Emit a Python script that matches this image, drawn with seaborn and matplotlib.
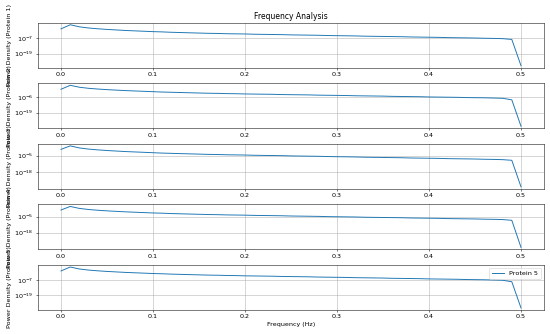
import numpy as np
import pandas as pd
import seaborn as sns
import matplotlib
matplotlib.use("Agg")
import matplotlib.pyplot as plt

# periodogram frequencies (100 samples -> 0 .. 0.5 Hz)
freqs = np.fft.rfftfreq(100)

# power density, stored as log10 exponents
protein_1 = [0.0, 3.2, 1.6, 0.7, 0.1, -0.4, -0.8, -1.2, -1.5, -1.8,
             -2.1, -2.3, -2.6, -2.8, -3.0, -3.2, -3.4, -3.5, -3.7, -3.8,
             -3.9, -4.1, -4.2, -4.3, -4.4, -4.6, -4.7, -4.8, -4.9, -5.1,
             -5.2, -5.3, -5.4, -5.6, -5.7, -5.8, -5.9, -6.0, -6.2, -6.3,
             -6.4, -6.5, -6.7, -6.8, -6.9, -7.0, -7.2, -7.3, -7.5, -8.1,
             -28.3]
protein_2 = [0.4, 3.7, 2.1, 1.2, 0.6, 0.1, -0.3, -0.7, -1.0, -1.3,
             -1.6, -1.9, -2.1, -2.3, -2.5, -2.7, -2.9, -3.0, -3.2, -3.3,
             -3.5, -3.6, -3.7, -3.8, -4.0, -4.1, -4.2, -4.3, -4.5, -4.6,
             -4.7, -4.8, -5.0, -5.1, -5.2, -5.3, -5.5, -5.6, -5.7, -5.8,
             -6.0, -6.1, -6.2, -6.3, -6.5, -6.6, -6.7, -6.9, -7.1, -8.4,
             -30.4]
protein_3 = [-0.1, 2.6, 1.0, 0.1, -0.5, -1.0, -1.4, -1.8, -2.1, -2.4,
             -2.7, -3.0, -3.2, -3.4, -3.6, -3.8, -4.0, -4.1, -4.3, -4.4,
             -4.5, -4.7, -4.8, -4.9, -5.0, -5.2, -5.3, -5.4, -5.5, -5.7,
             -5.8, -5.9, -6.0, -6.2, -6.3, -6.4, -6.5, -6.6, -6.8, -6.9,
             -7.0, -7.1, -7.3, -7.4, -7.5, -7.6, -7.8, -7.9, -8.1, -8.6,
             -29.2]
protein_4 = [0.5, 3.4, 1.8, 0.9, 0.3, -0.2, -0.6, -1.0, -1.3, -1.6,
             -1.9, -2.1, -2.4, -2.6, -2.8, -3.0, -3.2, -3.3, -3.5, -3.6,
             -3.7, -3.9, -4.0, -4.1, -4.2, -4.4, -4.5, -4.6, -4.7, -4.9,
             -5.0, -5.1, -5.2, -5.4, -5.5, -5.6, -5.7, -5.8, -6.0, -6.1,
             -6.2, -6.3, -6.5, -6.6, -6.7, -6.8, -7.0, -7.1, -7.3, -7.9,
             -30.0]
protein_5 = [0.6, 3.8, 2.2, 1.3, 0.7, 0.2, -0.2, -0.6, -0.9, -1.2,
             -1.5, -1.7, -2.0, -2.2, -2.4, -2.6, -2.8, -2.9, -3.1, -3.2,
             -3.4, -3.5, -3.6, -3.7, -3.9, -4.0, -4.1, -4.2, -4.4, -4.5,
             -4.6, -4.7, -4.9, -5.0, -5.1, -5.2, -5.4, -5.5, -5.6, -5.7,
             -5.9, -6.0, -6.1, -6.2, -6.4, -6.5, -6.6, -6.8, -7.0, -8.2,
             -29.6]

proteins = ["Protein 1", "Protein 2", "Protein 3", "Protein 4", "Protein 5"]
series = [protein_1, protein_2, protein_3, protein_4, protein_5]
# decade exponents shown on each y axis
ytick_exps = [[-7, -19], [-6, -19], [-5, -18], [-5, -18], [-7, -19]]

DPI = 550 / 12
fig, axes = plt.subplots(5, 1, figsize=(12, 334 / DPI), dpi=DPI)
fig.subplots_adjust(left=38 / 550, right=544 / 550, top=1 - 22.7 / 334,
                    bottom=1 - 310 / 334, hspace=0.345)

for i, (ax, name, vals) in enumerate(zip(axes, proteins, series)):
    df = pd.DataFrame({"freq": freqs, "power": 10.0 ** np.array(vals)})
    last = i == len(proteins) - 1
    sns.lineplot(data=df, x="freq", y="power", ax=ax,
                 label=name if last else None, legend=last)
    ax.set_yscale("log")
    lims = ax.get_ylim()
    ax.set_yticks([10.0 ** e for e in ytick_exps[i]])
    ax.set_ylim(lims)
    ax.yaxis.set_minor_locator(matplotlib.ticker.NullLocator())
    ax.set_ylabel(f"Power Density ({name})")
    ax.set_xlabel("")
    ax.grid(True)
    if last:
        ax.legend(loc="upper right")

axes[0].set_title("Frequency Analysis")
axes[-1].set_xlabel("Frequency (Hz)")

fig.savefig("out.png", dpi=DPI)
